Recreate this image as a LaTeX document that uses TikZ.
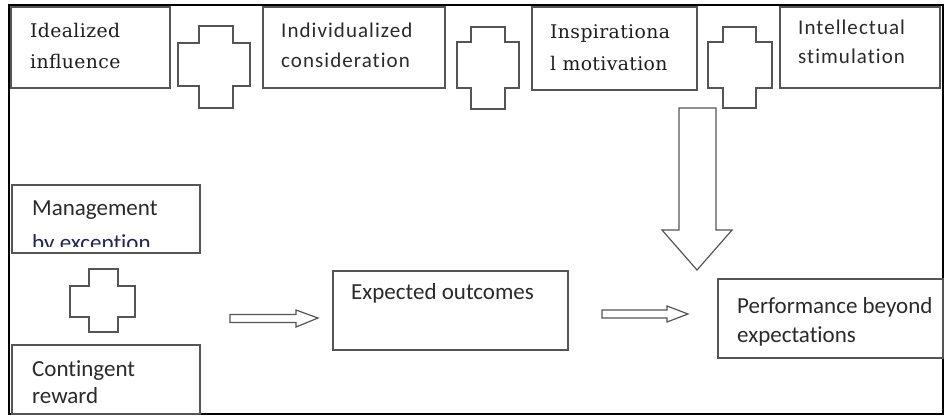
\documentclass[tikz,border=0pt]{standalone}
\usepackage{fontspec}
\setmainfont{Carlito}[Ligatures=NoCommon]
\newfontfamily\topsans[LetterSpace=5,Ligatures=NoCommon]{Carlito}
\newfontfamily\botsans[Ligatures=NoCommon]{Carlito}
\newfontfamily\topserif[LetterSpace=2]{DejaVu Serif}
\definecolor{boxline}{HTML}{555555}
\definecolor{txt}{HTML}{2A2A2A}
\definecolor{seriftxt}{HTML}{1E1A22}
\tikzset{
  box/.style={draw=boxline, line width=1.4pt},
  plusshape/.style={draw=boxline, line width=1.3pt, line join=miter},
  blockarrow/.style={draw=boxline, line width=1.2pt, line join=miter},
  tsans/.style={anchor=base west, inner sep=0pt, text=txt, font=\topsans\fontsize{21}{25}\selectfont},
  tserif/.style={anchor=base west, inner sep=0pt, text=seriftxt, font=\topserif\fontsize{18.8}{22}\selectfont},
  bsans/.style={anchor=base west, inner sep=0pt, text=txt, font=\botsans\fontsize{23}{27}\selectfont},
  frame/.style={draw=black, line width=2.2pt}
}
\begin{document}
\begin{tikzpicture}[x=1pt,y=-1pt]
\useasboundingbox (0,0) rectangle (950,416);
% outer frame
\draw[frame] (9,5) rectangle (943,414);
% top boxes
\draw[box] (11,7) rectangle (170,88);
\draw[box] (263,7) rectangle (445,88);
\draw[box] (532,7) rectangle (697,90);
\draw[box] (780,7) rectangle (940,88);
\node[tserif] (t1a) at (30,37) {Idealized};
\node[tserif] (t1b) at (30,68) {influence};
\node[tsans] (t2a) at (281,37) {Individualized};
\node[tsans] (t2b) at (281,67) {consideration};
\node[tserif] (t3a) at (550,38) {Inspirationa};
\node[tserif] (t3b) at (550,70) {l motivation};
\node[tsans] (t4a) at (798,34) {Intellectual};
\node[tsans] (t4b) at (798,63) {stimulation};
% plus shapes
\draw[plusshape] (199,26) -- (233,26) -- (233,43) -- (250,43) -- (250,86) -- (233,86) -- (233,108) -- (199,108) -- (199,86) -- (178,86) -- (178,43) -- (199,43) -- cycle;
\draw[plusshape] (471,27) -- (505,27) -- (505,42) -- (519,42) -- (519,88) -- (505,88) -- (505,109) -- (471,109) -- (471,88) -- (457,88) -- (457,42) -- (471,42) -- cycle;
\draw[plusshape] (723,27) -- (756,27) -- (756,42) -- (772,42) -- (772,88) -- (756,88) -- (756,108) -- (723,108) -- (723,88) -- (708,88) -- (708,42) -- (723,42) -- cycle;
\draw[plusshape] (89,269) -- (118,269) -- (118,286) -- (135,286) -- (135,317) -- (118,317) -- (118,332) -- (89,332) -- (89,317) -- (70,317) -- (70,286) -- (89,286) -- cycle;
% left column boxes
\begin{scope}
\clip (12,185) rectangle (200,246);
\node[bsans] (t5a) at (32,215) {Management};
\node[bsans, text=txt!80!blue] (t5b) at (32,250) {by exception};
\end{scope}
\draw[box] (12,185) rectangle (200,253);
\draw[box] (12,345) rectangle (200,414);
\node[bsans] (t6a) at (32,376) {Contingent};
\node[bsans] (t6b) at (32,403) {reward};
% expected outcomes
\draw[box] (333,271) rectangle (568,350);
\node[bsans] (t7) at (351,299) {Expected outcomes};
% performance
\draw[box] (718,279) rectangle (943,358);
\node[bsans] (t8a) at (737,313) {Performance beyond};
\node[bsans] (t8b) at (737,342) {expectations};
% block arrows
\draw[blockarrow] (230,314.5) -- (296,314.5) -- (296,310) -- (318,318) -- (296,327) -- (296,322.5) -- (230,322.5) -- cycle;
\draw[blockarrow] (602,310) -- (667,310) -- (667,306) -- (688,314) -- (667,322) -- (667,318) -- (602,318) -- cycle;
\draw[blockarrow] (679,108) -- (716,108) -- (716,230) -- (732,230) -- (697,270) -- (662,230) -- (679,230) -- cycle;
\end{tikzpicture}
\end{document}
